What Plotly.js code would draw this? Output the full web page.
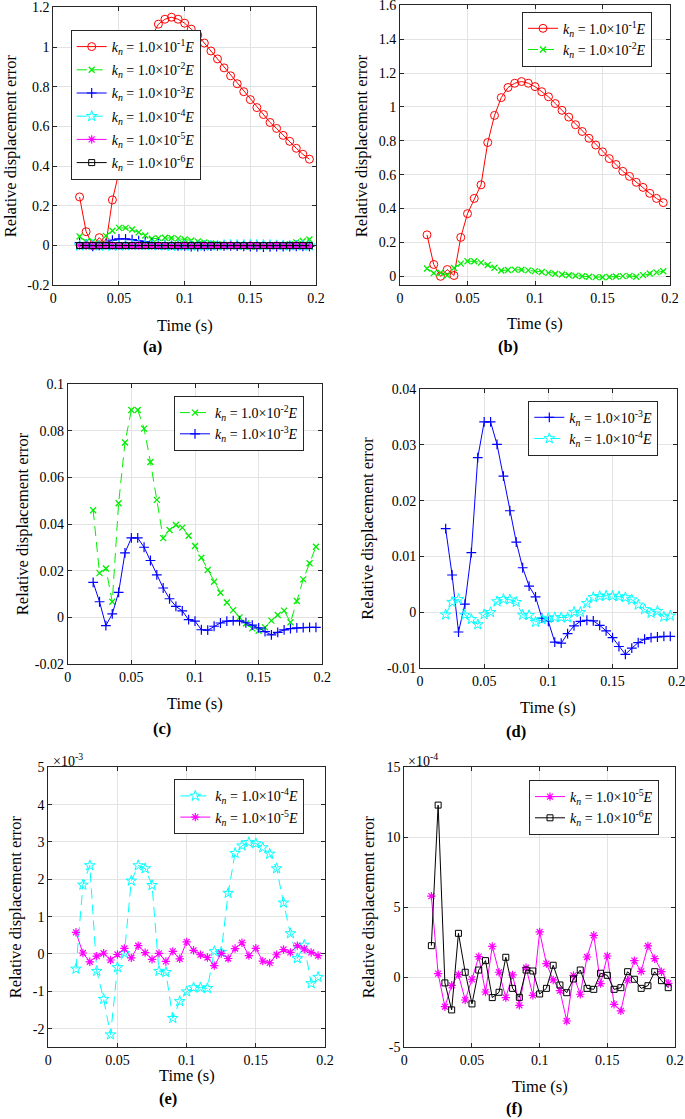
<!DOCTYPE html>
<html>
<head>
<meta charset="utf-8">
<script src="https://cdn.plot.ly/plotly-3.0.1.min.js"></script>
<style>html,body{margin:0;padding:0;background:#fff;}#chart{width:685px;height:1119px;}</style>
</head>
<body>
<div id="chart"></div>
<script>
// ---------------- data ----------------
const time = [0.020,0.025,0.030,0.035,0.040,0.045,0.050,0.055,0.060,0.065,0.070,0.075,0.080,0.085,0.090,0.095,0.100,0.105,0.110,0.115,0.120,0.125,0.130,0.135,0.140,0.145,0.150,0.155,0.160,0.165,0.170,0.175,0.180,0.185,0.190,0.195];
const kn1 = [0.245,0.07,0.0,0.04,0.005,0.23,0.37,0.46,0.54,0.79,0.95,1.055,1.115,1.14,1.15,1.14,1.12,1.09,1.06,1.02,0.98,0.94,0.895,0.855,0.815,0.775,0.735,0.695,0.66,0.62,0.59,0.555,0.525,0.49,0.46,0.435];
const kn2 = [0.046,0.019,0.021,0.0067,0.049,0.075,0.089,0.089,0.081,0.0667,0.0504,0.034,0.0375,0.0396,0.0385,0.035,0.0306,0.0256,0.0203,0.0153,0.0106,0.0064,0.0031,0.0,-0.0026,-0.0047,-0.0057,-0.0043,-0.0014,0.001,0.0029,-0.0021,0.007,0.0163,0.0232,0.0303];
const kn3 = [0.015,0.0067,-0.0035,0.0015,0.0107,0.0277,0.0341,0.0341,0.0301,0.0244,0.0182,0.0126,0.008,0.0047,0.0028,-0.001,-0.0016,-0.0053,-0.0055,-0.0038,-0.0024,-0.0016,-0.0014,-0.0015,-0.0023,-0.0033,-0.0045,-0.0061,-0.0075,-0.0064,-0.0054,-0.0048,-0.0045,-0.0044,-0.0043,-0.0043];
const kn4 = [-0.40e-3,1.85e-3,2.37e-3,-0.46e-3,-1.21e-3,-2.16e-3,-0.36e-3,0.02e-3,1.96e-3,2.37e-3,2.29e-3,1.84e-3,-0.46e-3,-0.49e-3,-1.72e-3,-1.27e-3,-1.01e-3,-0.90e-3,-0.90e-3,-0.92e-3,0.07e-3,0.05e-3,1.63e-3,2.70e-3,2.90e-3,2.99e-3,2.96e-3,2.85e-3,2.68e-3,2.29e-3,1.37e-3,0.55e-3,-0.12e-3,0.24e-3,-0.79e-3,-0.62e-3];
const kn5 = [5.8e-4,0.26e-4,-2.1e-4,-0.57e-4,0.19e-4,-1.62e-4,-0.14e-4,1.48e-4,-1.05e-4,2.21e-4,0.36e-4,-1.45e-4,0.17e-4,-2.0e-4,0.69e-4,-1.29e-4,3.24e-4,0.98e-4,-0.19e-4,-0.95e-4,-3.12e-4,0.14e-4,-1.21e-4,1.45e-4,3.0e-4,-0.45e-4,1.52e-4,-1.93e-4,-2.4e-4,-0.21e-4,1.19e-4,0.43e-4,2.24e-4,1.33e-4,0.40e-4,-0.43e-4];
const kn6 = [2.26e-4,12.3e-4,-0.40e-4,-2.33e-4,3.14e-4,0.36e-4,-1.9e-4,0.52e-4,1.19e-4,-1.45e-4,-1.07e-4,1.43e-4,-0.79e-4,-1.43e-4,0.52e-4,0.45e-4,-1.19e-4,-0.79e-4,0.86e-4,-0.55e-4,-1.1e-4,-0.12e-4,0.52e-4,-0.79e-4,-0.86e-4,0.29e-4,0.14e-4,-0.86e-4,-0.74e-4,0.4e-4,-0.14e-4,-0.79e-4,-0.6e-4,0.4e-4,-0.24e-4,-0.74e-4];

const seriesNames = [
  '<i>k</i><sub><i>n</i></sub> = 1.0×10<sup>-1</sup><i>E</i>',
  '<i>k</i><sub><i>n</i></sub> = 1.0×10<sup>-2</sup><i>E</i>',
  '<i>k</i><sub><i>n</i></sub> = 1.0×10<sup>-3</sup><i>E</i>',
  '<i>k</i><sub><i>n</i></sub> = 1.0×10<sup>-4</sup><i>E</i>',
  '<i>k</i><sub><i>n</i></sub> = 1.0×10<sup>-5</sup><i>E</i>',
  '<i>k</i><sub><i>n</i></sub> = 1.0×10<sup>-6</sup><i>E</i>'
];
const seriesData = [kn1, kn2, kn3, kn4, kn5, kn6];

const xTickVals = [0, 0.05, 0.1, 0.15, 0.2];
const xTickText = ['0', '0.05', '0.1', '0.15', '0.2'];
const yTicksA = [-0.2, 0, 0.2, 0.4, 0.6, 0.8, 1, 1.2];
const yTextA = ['-0.2', '0', '0.2', '0.4', '0.6', '0.8', '1', '1.2'];
const yTicksB = [0, 0.2, 0.4, 0.6, 0.8, 1, 1.2, 1.4, 1.6];
const yTextB = ['0', '0.2', '0.4', '0.6', '0.8', '1', '1.2', '1.4', '1.6'];
const yTicksC = [-0.02, 0, 0.02, 0.04, 0.06, 0.08, 0.1];
const yTextC = ['-0.02', '0', '0.02', '0.04', '0.06', '0.08', '0.1'];
const yTicksD = [-0.01, 0, 0.01, 0.02, 0.03, 0.04];
const yTextD = ['-0.01', '0', '0.01', '0.02', '0.03', '0.04'];
const yTicksE = [-2e-3, -1e-3, 0, 1e-3, 2e-3, 3e-3, 4e-3, 5e-3];
const yTextE = ['-2', '-1', '0', '1', '2', '3', '4', '5'];
const yTicksF = [-5e-4, 0, 5e-4, 10e-4, 15e-4];
const yTextF = ['-5', '0', '5', '10', '15'];

// ---------------- styling ----------------
const W = 685, H = 1119;
const FONT = 'Times New Roman';
const X = px => px / W;
const Y = py => 1 - py / H;

const styles = [
  {color: '#ff0000', dash: 'solid', symbol: 'circle-open', size: 8, lw: 1},
  {color: '#00ee00', dash: '10px,6px', symbol: 'x-thin-open', size: 6, lw: 1.3},
  {color: '#0000ff', dash: 'solid', symbol: 'cross-thin-open', size: 7, lw: 1.2},
  {color: '#00ffff', dash: '10px,6px', symbol: 'star-open', size: 8, lw: 1},
  {color: '#ff00ff', dash: 'solid', symbol: 'asterisk-open', size: 7, lw: 1.2},
  {color: '#000000', dash: 'solid', symbol: 'square-open', size: 6, lw: 1}
];

function trace(i, n, legendId) {
  const s = styles[i];
  const sfx = n === 1 ? '' : String(n);
  return {
    x: time, y: seriesData[i], type: 'scatter', mode: 'lines+markers',
    name: seriesNames[i], xaxis: 'x' + sfx, yaxis: 'y' + sfx,
    legend: legendId, legendgroup: 'g' + n + '_' + i,
    line: {color: s.color, width: 1, dash: s.dash},
    marker: {symbol: s.symbol, size: s.size, color: s.color, line: {color: s.color, width: s.lw}},
    hoverinfo: 'skip'
  };
}

const panels = [
  {series: [0,1,2,3,4,5], dx: [53.3,316], dy: [7.3,285.3], yr: [-0.2,1.2], yt: yTicksA, ytt: yTextA,
   leg: [70.7,30], gap: 2, ytx: 10, xtt: 325, lab: '(a)', labx: 152, laby: 346},
  {series: [0,1], dx: [400,670], dy: [5.3,285], yr: [-0.0512,1.6], yt: yTicksB, ytt: yTextB,
   leg: [522,11.7], gap: 0, ytx: 361, xtt: 323, lab: '(b)', labx: 508, laby: 346},
  {series: [1,2], dx: [67.7,322.3], dy: [384.3,664], yr: [-0.02,0.1], yt: yTicksC, ytt: yTextC,
   leg: [174,396], gap: 0, ytx: 22, xtt: 703, lab: '(c)', labx: 162, laby: 728},
  {series: [2,3], dx: [420,676.7], dy: [389,668.3], yr: [-0.01,0.04], yt: yTicksD, ytt: yTextD,
   leg: [528.3,400.7], gap: 0, ytx: 368, xtt: 707, lab: '(d)', labx: 516, laby: 731},
  {series: [3,4], dx: [48.3,325], dy: [767.3,1047.3], yr: [-2.5e-3,5e-3], yt: yTicksE, ytt: yTextE,
   leg: [174.3,779.3], gap: 0, ytx: 15, xtt: 1075, lab: '(e)', labx: 168, laby: 1098, exp: '×10<sup>-3</sup>', expx: 51, expy: 760},
  {series: [4,5], dx: [404.3,675], dy: [767.3,1047.3], yr: [-5e-4,15e-4], yt: yTicksF, ytt: yTextF,
   leg: [529,780], gap: 0, ytx: 368, xtt: 1086, lab: '(f)', labx: 514, laby: 1108, exp: '×10<sup>-4</sup>', expx: 406, expy: 760}
];

const data = [];
const layout = {
  width: W, height: H, margin: {l: 0, r: 0, t: 0, b: 0},
  paper_bgcolor: '#fff', plot_bgcolor: '#fff',
  font: {family: FONT, size: 14, color: '#000'},
  showlegend: true, annotations: []
};

panels.forEach((p, k) => {
  const n = k + 1;
  const sfx = n === 1 ? '' : String(n);
  const legendId = n === 1 ? 'legend' : 'legend' + n;
  p.series.forEach(i => data.push(trace(i, n, legendId)));
  const common = {
    showline: true, linecolor: '#262626', linewidth: 1, mirror: 'ticks',
    ticks: 'inside', ticklen: 4, tickcolor: '#262626', tickwidth: 1,
    showgrid: true, gridcolor: '#e3e3e3', gridwidth: 1, zeroline: false,
    ticklabeloverflow: 'allow',
    tickfont: {family: FONT, size: 14, color: '#000'}, fixedrange: true
  };
  layout['xaxis' + sfx] = Object.assign({}, common, {
    domain: [X(p.dx[0]), X(p.dx[1])], range: [0, 0.2], anchor: 'y' + sfx,
    tickmode: 'array', tickvals: xTickVals, ticktext: xTickText
  });
  layout['yaxis' + sfx] = Object.assign({}, common, {
    domain: [Y(p.dy[1]), Y(p.dy[0])], range: p.yr, anchor: 'x' + sfx,
    tickmode: 'array', tickvals: p.yt, ticktext: p.ytt
  });
  layout[legendId] = {
    x: X(p.leg[0]), y: Y(p.leg[1]), xanchor: 'left', yanchor: 'top',
    bgcolor: '#ffffff', bordercolor: '#262626', borderwidth: 1,
    font: {family: FONT, size: 14, color: '#000'}, tracegroupgap: p.gap,
    itemclick: false, itemdoubleclick: false
  };
  const cy = (p.dy[0] + p.dy[1]) / 2;
  const cx = (p.dx[0] + p.dx[1]) / 2;
  layout.annotations.push({
    xref: 'paper', yref: 'paper', x: X(p.ytx), y: Y(cy), text: 'Relative displacement error',
    textangle: -90, showarrow: false, xanchor: 'center', yanchor: 'middle',
    font: {family: FONT, size: 16.5, color: '#000'}
  });
  layout.annotations.push({
    xref: 'paper', yref: 'paper', x: X(cx), y: Y(p.xtt), text: 'Time (s)',
    showarrow: false, xanchor: 'center', yanchor: 'middle',
    font: {family: FONT, size: 16.5, color: '#000'}
  });
  layout.annotations.push({
    xref: 'paper', yref: 'paper', x: X(p.labx), y: Y(p.laby), text: '<b>' + p.lab + '</b>',
    showarrow: false, xanchor: 'center', yanchor: 'middle',
    font: {family: FONT, size: 16.5, color: '#000'}
  });
  if (p.exp) {
    layout.annotations.push({
      xref: 'paper', yref: 'paper', x: X(p.expx), y: Y(p.expy), text: p.exp,
      showarrow: false, xanchor: 'left', yanchor: 'middle',
      font: {family: FONT, size: 14, color: '#000'}
    });
  }
});

Plotly.newPlot('chart', data, layout, {displayModeBar: false, staticPlot: true});
</script>
</body>
</html>
